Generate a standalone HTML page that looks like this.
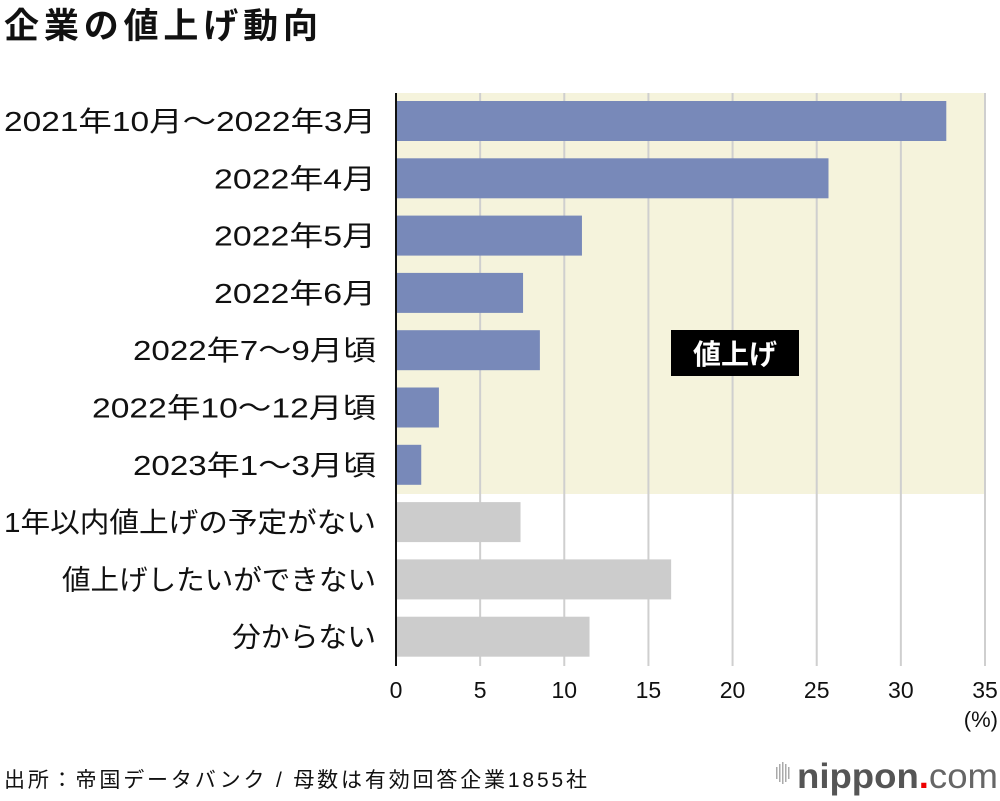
<!DOCTYPE html>
<html><head><meta charset="utf-8">
<style>
body{margin:0;background:#fff;}
svg text{font-family:"Liberation Sans","Noto Sans CJK JP",sans-serif;}
</style></head>
<body>
<svg id="chart" width="1000" height="796" viewBox="0 0 1000 796" xmlns="http://www.w3.org/2000/svg">
<text x="4" y="38" font-size="35" font-weight="bold" textLength="314" lengthAdjust="spacing" fill="#111">企業の値上げ動向</text>
<rect x="396" y="93" width="589" height="401" fill="#f5f3dc"/>
<g id="grid"></g>
<g id="bars"></g>
<g id="labels"></g>
<g id="ticks"></g>
<line x1="396" y1="93" x2="396" y2="666" stroke="#111" stroke-width="2"/>
<rect x="671" y="330" width="128" height="46" fill="#000"/>
<text x="735" y="364" font-size="28" font-weight="bold" fill="#fff" text-anchor="middle">値上げ</text>
<text x="998" y="727" font-size="22" fill="#111" text-anchor="end">(%)</text>
<text x="4" y="787" font-size="21" textLength="583" lengthAdjust="spacing" fill="#111">出所：帝国データバンク / 母数は有効回答企業1855社</text>
<g>
<g fill="#aaa"><rect x="776" y="767" width="1.5" height="12"/><rect x="779" y="764" width="1.5" height="18"/><rect x="782" y="762" width="1.5" height="22"/><rect x="785" y="764" width="1.5" height="18"/><rect x="788" y="767" width="1.5" height="12"/></g>
<text x="797" y="788" font-size="35" font-weight="bold" textLength="201" lengthAdjust="spacingAndGlyphs" fill="#555">nippon<tspan fill="#e00">.</tspan><tspan font-weight="normal" fill="#666">com</tspan></text>
</g>
</svg>
<script>
const categories=["2021年10月～2022年3月","2022年4月","2022年5月","2022年6月","2022年7～9月頃","2022年10～12月頃","2023年1～3月頃","1年以内値上げの予定がない","値上げしたいができない","分からない"];
const values=[32.7,25.7,11.05,7.55,8.55,2.55,1.5,7.4,16.35,11.5];
const groups=["up","up","up","up","up","up","up","other","other","other"];
const tickValues=[0,5,10,15,20,25,30,35];
const tickLabels=["0","5","10","15","20","25","30","35"];
const NS="http://www.w3.org/2000/svg";
const labelWidths=[372,162,162,162,243,284,243,372,314,144];
const x0=396,pxPer=(985-396)/35;
const xs=v=>x0+v*pxPer;
const rowY=i=>121+i*57.3;
const barH=40;
function mk(tag,attrs,parent){const e=document.createElementNS(NS,tag);for(const k in attrs)e.setAttribute(k,attrs[k]);document.getElementById(parent).appendChild(e);return e;}
tickValues.forEach((t,i)=>{
  if(t>0){const g=mk("line",{x1:xs(t),x2:xs(t),y1:93,y2:666,stroke:"#cfcfcf","stroke-width":2},"grid");
  
  }
  const tx=mk("text",{x:xs(t),y:698,"font-size":23,fill:"#111","text-anchor":"middle"},"ticks");
  tx.textContent=tickLabels[i];
  
  
});
categories.forEach((c,i)=>{
  const y=rowY(i);
  const b=mk("rect",{x:x0,y:y-barH/2,width:xs(values[i])-x0,height:barH,fill:groups[i]==="up"?"#7889b9":"#cccccc"},"bars");
  
  
  const l=mk("text",{x:376-labelWidths[i],y:y+10,"font-size":28,textLength:labelWidths[i],lengthAdjust:"spacingAndGlyphs",fill:"#111"},"labels");
  l.textContent=c;
  
  
});
</script>
</body></html>
